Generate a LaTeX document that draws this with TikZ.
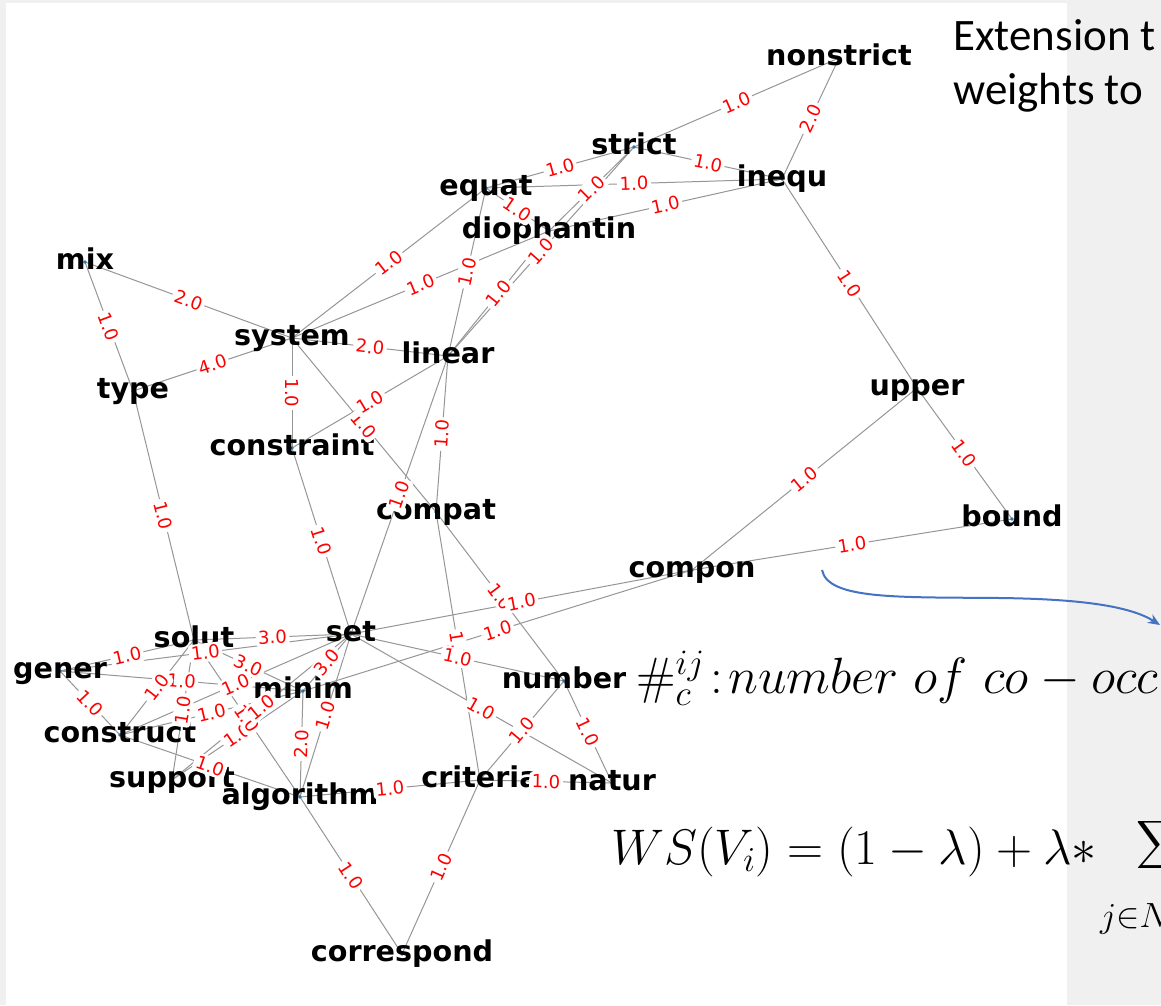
\RequirePackage{fix-cm}
\documentclass[tikz,border=0pt]{standalone}
\usepackage{amsmath}
\usepackage{fontspec}
\newfontfamily\dv{DejaVu Sans}
\newfontfamily\carl{Carlito}
\usetikzlibrary{arrows.meta}
\pgfdeclarelayer{bg}
\pgfdeclarelayer{edges}
\pgfsetlayers{bg,edges,main}
\definecolor{panel}{RGB}{240,240,240}
\definecolor{edgec}{RGB}{150,150,150}
\definecolor{dotc}{RGB}{31,119,180}
\definecolor{arrowc}{RGB}{68,114,196}
\definecolor{labred}{RGB}{255,0,0}
\begin{document}
\begin{tikzpicture}[x=1pt,y=-1pt,
  word/.style={font=\dv\bfseries\fontsize{28.6}{30}\selectfont, inner sep=0pt, text height=21pt, text depth=7pt},
  elab/.style={font=\dv\fontsize{18}{20}\selectfont, text=labred, fill=white, inner sep=2.5pt, rounded corners=3pt, sloped, midway},
  edge/.style={draw=edgec, line width=1pt},
  ndot/.style={fill=dotc},
  formula/.style={anchor=base west, inner sep=0pt}]
\useasboundingbox (0,0) rectangle (1161,1005);
\clip (0,0) rectangle (1161,1005);
\begin{pgfonlayer}{bg}
\fill[panel] (0,0) rectangle (1161,1005);
\fill[white] (6,3) rectangle (1067,1005);
\end{pgfonlayer}

% nodes
\node[word] (nonstrict) at (839,58) {nonstrict};
\node[word] (strict) at (634,147) {strict};
\node[word] (inequ) at (782,179) {inequ};
\node[word] (equat) at (486,188) {equat};
\node[word] (diophantin) at (549,231) {diophantin};
\node[word] (mix) at (85,262) {mix};
\node[word] (system) at (292,338) {system};
\node[word] (linear) at (448,356) {linear};
\node[word] (type) at (133,391) {type};
\node[word] (constraint) at (292,448) {constraint};
\node[word] (compat) at (436,512) {compat};
\node[word] (upper) at (917,388) {upper};
\node[word] (bound) at (1012,519) {bound};
\node[word] (compon) at (692,570) {compon};
\node[word] (set) at (351,634) {set};
\node[word] (solut) at (194,640) {solut};
\node[word] (gener) at (60,671) {gener};
\node[word] (minim) at (303,691) {minim};
\node[word] (number) at (564,681) {number};
\node[word] (construct) at (120,735) {construct};
\node[word] (support) at (172,780) {support};
\node[word] (algorithm) at (300,797) {algorithm};
\node[word] (criteria) at (480,780) {criteria};
\node[word] (natur) at (612,783) {natur};
\node[word] (correspond) at (402,954) {correspond};

% edges
\begin{pgfonlayer}{edges}
\foreach \a/\b in {system/compat, compat/number, compat/criteria, gener/minim, construct/set, support/minim,
  strict/nonstrict, inequ/nonstrict, equat/strict, strict/inequ, equat/inequ, diophantin/inequ,
  equat/diophantin, strict/diophantin, strict/linear, diophantin/linear, equat/linear, equat/system,
  system/diophantin, mix/system, system/linear, mix/type, type/system, system/constraint,
  constraint/linear, linear/compat, linear/set, type/solut, constraint/set, set/compon, minim/compon,
  set/number, set/natur, number/criteria, criteria/natur, algorithm/criteria, algorithm/correspond,
  criteria/correspond, number/natur, inequ/upper, upper/bound, compon/upper, compon/bound,
  solut/set, gener/set, gener/solut, gener/construct, construct/solut, construct/minim,
  solut/minim, minim/set, support/solut, solut/algorithm, support/set, construct/algorithm,
  minim/algorithm, set/algorithm}
  \draw[edge] (\a.center) -- (\b.center);
\foreach \n in {nonstrict,strict,inequ,equat,diophantin,mix,system,linear,type,constraint,compat,upper,bound,compon,set,solut,gener,minim,number,construct,support,algorithm,criteria,natur,correspond}
  \fill[ndot] (\n.center) circle (1.8);
\end{pgfonlayer}

% edge labels
\foreach \a/\b/\w in {system/compat/1.0, compat/number/1.0, compat/criteria/1.0, gener/minim/1.0,
  construct/set/1.0, support/minim/1.0,
  strict/nonstrict/1.0, inequ/nonstrict/2.0, equat/strict/1.0, strict/inequ/1.0, equat/inequ/1.0,
  diophantin/inequ/1.0, equat/diophantin/1.0, strict/diophantin/1.0, strict/linear/1.0,
  diophantin/linear/1.0, equat/linear/1.0, equat/system/1.0, system/diophantin/1.0, mix/system/2.0,
  system/linear/2.0, mix/type/1.0, type/system/4.0, system/constraint/1.0, constraint/linear/1.0,
  linear/compat/1.0, linear/set/1.0, type/solut/1.0, constraint/set/1.0, set/compon/1.0,
  minim/compon/1.0, set/number/1.0, set/natur/1.0, number/criteria/1.0, criteria/natur/1.0,
  algorithm/criteria/1.0, algorithm/correspond/1.0, criteria/correspond/1.0, number/natur/1.0,
  inequ/upper/1.0, upper/bound/1.0, compon/upper/1.0, compon/bound/1.0, solut/set/3.0,
  gener/set/1.0, gener/solut/1.0, gener/construct/1.0, construct/solut/1.0, construct/minim/1.0,
  solut/minim/3.0, minim/set/3.0, support/solut/1.0, solut/algorithm/1.0, support/set/1.0,
  construct/algorithm/1.0, minim/algorithm/2.0, set/algorithm/1.0}
  \path (\a.center) -- (\b.center) node[elab] {\w};

% right-hand text
\node[formula, font=\carl\fontsize{45}{50}\selectfont] (ext1) at (953,50) {Extension t};
\node[formula, font=\carl\fontsize{45}{50}\selectfont] (ext2) at (953,104) {weights to};
\node[formula] (f1) at (636,693) {\fontsize{51}{54}\selectfont $\#_{c}^{ij}\!:\!number\ of\ co-occ$};
\node[formula] (f2) at (611,864) {\fontsize{50}{54}\selectfont $WS(V_i)=(1-\lambda)+\lambda\ast$};
\node[anchor=north west, inner sep=0pt, scale=1.35] (sig) at (1136,818) {\fontsize{40}{44}\selectfont $\displaystyle\sum$};
\node[formula] (sub) at (1100,927) {\fontsize{35}{38}\selectfont $j{\in}N$};

% blue arrow
\coordinate (arrS) at (822,570);
\coordinate (arrE) at (1160,625);
\begin{pgfonlayer}{edges}
\draw[arrowc, line width=2pt, -{Stealth[length=12pt,width=10pt]}] (arrS) .. controls (828,600) and (900,597) .. (1000,598) .. controls (1080,599) and (1130,606) .. (arrE);
\end{pgfonlayer}
\end{tikzpicture}
\end{document}
